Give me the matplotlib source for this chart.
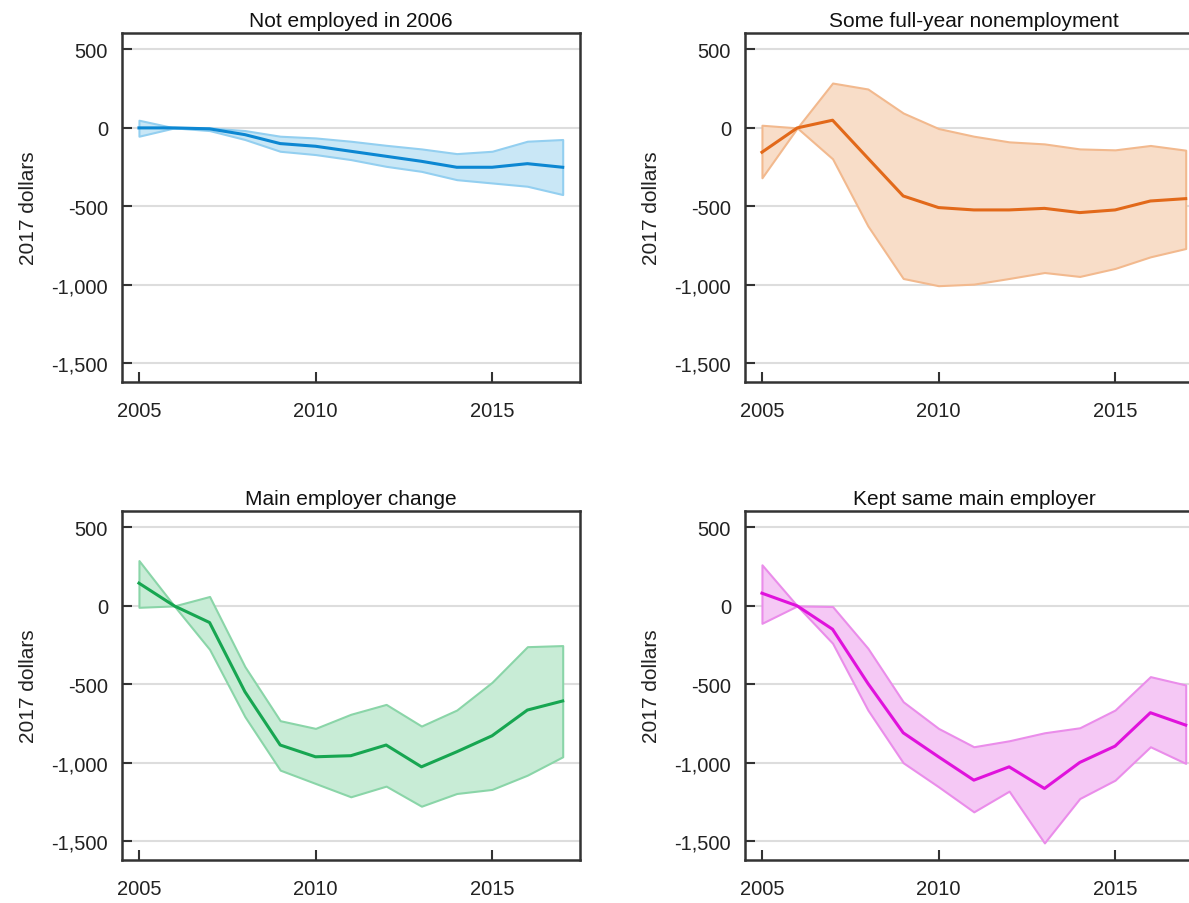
import numpy as np
import matplotlib
matplotlib.use("Agg")
from matplotlib import pyplot as plt

plt.rcParams['font.family'] = ['Liberation Sans', 'DejaVu Sans']

years = list(range(2005, 2018))

# Not employed in 2006
ne_mid = [0, 0, -6, -43, -100, -117, -149, -181, -213, -251, -251, -228, -251]
ne_hi = [49, 0, 0, -17, -53, -64, -85, -111, -134, -164, -149, -85, -74]
ne_lo = [-53, 0, -17, -74, -149, -170, -202, -245, -277, -330, -351, -372, -425]

# Some full-year nonemployment
fy_mid = [-155, 0, 49, -193, -434, -508, -523, -523, -513, -540, -523, -466, -451]
fy_hi = [17, 0, 286, 248, 95, -4, -53, -89, -102, -134, -140, -112, -142]
fy_lo = [-318, 0, -197, -625, -960, -1006, -996, -960, -922, -947, -896, -822, -769]

# Main employer change
mc_mid = [145, 0, -106, -547, -887, -962, -955, -887, -1026, -930, -828, -664, -606]
mc_hi = [289, 0, 60, -387, -732, -781, -691, -628, -766, -664, -487, -260, -253]
mc_lo = [-9, 0, -277, -706, -1047, -1132, -1217, -1149, -1277, -1196, -1170, -1079, -962]

# Kept same main employer
ks_mid = [81, 0, -149, -494, -809, -962, -1111, -1026, -1164, -998, -894, -681, -760]
ks_hi = [262, 0, -4, -270, -611, -781, -898, -860, -809, -777, -664, -451, -504]
ks_lo = [-111, 0, -238, -664, -1000, -1153, -1313, -1181, -1511, -1228, -1111, -898, -1004]

panels = [
    ("Not employed in 2006", ne_mid, ne_lo, ne_hi, '#0c87d2', '#c9e7f6', '#93cff0'),
    ("Some full-year nonemployment", fy_mid, fy_lo, fy_hi, '#e2691a', '#f8ddc8', '#f2b98e'),
    ("Main employer change", mc_mid, mc_lo, mc_hi, '#17a651', '#c8ecd6', '#8ad5a8'),
    ("Kept same main employer", ks_mid, ks_lo, ks_hi, '#e012dc', '#f5c8f5', '#ea8dea'),
]

W, H = 1189, 904
# axes boxes in pixels: left, top, right, bottom (right column runs off the edge)
boxes = [(122, 34, 580, 383), (745, 34, 1203, 383),
         (122, 512, 580, 861), (745, 512, 1203, 861)]

fig = plt.figure(figsize=(W / 100, H / 100), dpi=100)

for (title, mid, lo, hi, lc, fc, ec), (l, t, r, b) in zip(panels, boxes):
    ax = fig.add_axes([l / W, (H - b) / H, (r - l) / W, (b - t) / H])
    ax.fill_between(years, lo, hi, facecolor=fc, edgecolor=ec, linewidth=1.5, zorder=2)
    ax.plot(years, mid, color=lc, linewidth=2.2, zorder=3)
    ax.set_xlim(2004.52, 2017.49)
    ax.set_ylim(-1620, 605)
    ax.set_xticks([2005, 2010, 2015])
    ax.set_yticks([500, 0, -500, -1000, -1500])
    ax.set_yticklabels(['500', '0', '-500', '-1,000', '-1,500'])
    ax.grid(axis='y', color='#dddddd', linewidth=1.5, zorder=1)
    ax.set_axisbelow(True)
    ax.tick_params(direction='in', length=7, width=1.5, color='#333333',
                   labelsize=14.5, labelcolor='#222222')
    ax.tick_params(axis='x', pad=14)
    ax.tick_params(axis='y', pad=10)
    for s in ax.spines.values():
        s.set_linewidth(1.8)
        s.set_color('#333333')
    ax.set_title(title, fontsize=15, pad=5, color='#111111')
    ax.set_ylabel('2017 dollars', fontsize=15, labelpad=10, color='#222222')

fig.savefig('out.png', dpi=100)
